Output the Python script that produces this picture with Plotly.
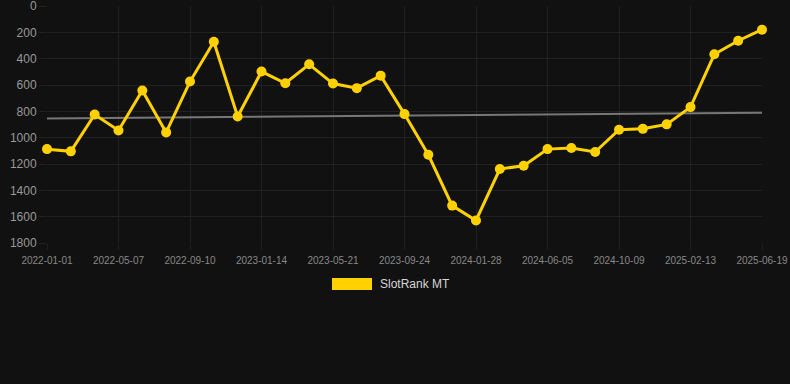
import plotly.graph_objects as go

dates = [
    "2022-01-01", "2022-02-12", "2022-03-26", "2022-05-07", "2022-06-18", "2022-07-30",
    "2022-09-10", "2022-10-22", "2022-12-03", "2023-01-14", "2023-02-25", "2023-04-08",
    "2023-05-21", "2023-07-02", "2023-08-13", "2023-09-24", "2023-11-05", "2023-12-17",
    "2024-01-28", "2024-03-10", "2024-04-21", "2024-06-05", "2024-07-17", "2024-08-28",
    "2024-10-09", "2024-11-20", "2025-01-01", "2025-02-13", "2025-03-27", "2025-05-08",
    "2025-06-19",
]
rank = [
    1087, 1104, 824, 945, 642, 960, 574, 271, 839, 498, 587, 443, 589, 624, 529,
    821, 1130, 1516, 1629, 1238, 1213, 1087, 1079, 1109, 940, 933, 899, 768, 367, 264, 180,
]
trend_x = ["2022-01-01", "2025-06-19"]
trend_y = [854, 811]
tick_labels = [
    "2022-01-01", "2022-05-07", "2022-09-10", "2023-01-14", "2023-05-21", "2023-09-24",
    "2024-01-28", "2024-06-05", "2024-10-09", "2025-02-13", "2025-06-19",
]
y_ticks = [0, 200, 400, 600, 800, 1000, 1200, 1400, 1600, 1800]
series_name = "SlotRank MT"

GOLD = "#FFD100"
GRID = "#212121"
FONT = "Liberation Sans, Arial, sans-serif"

fig = go.Figure()
fig.add_trace(go.Scatter(
    x=trend_x, y=trend_y, mode="lines",
    line=dict(color="#777777", width=2),
    hoverinfo="skip", showlegend=False, cliponaxis=False,
))
fig.add_trace(go.Scatter(
    x=dates, y=rank, mode="lines+markers", name=series_name,
    line=dict(color=GOLD, width=3),
    marker=dict(color=GOLD, size=10),
    showlegend=False, cliponaxis=False,
))

fig.update_layout(
    width=790, height=384,
    paper_bgcolor="#111111", plot_bgcolor="#111111",
    margin=dict(l=47, r=28, t=6, b=141),
    font=dict(family=FONT, color="#888888"),
    showlegend=False,
    xaxis=dict(
        type="category", categoryorder="array", categoryarray=dates,
        range=[0, len(dates) - 1],
        tickmode="array", tickvals=tick_labels, ticktext=tick_labels,
        tickfont=dict(size=10, color="#888888"),
        showgrid=True, gridcolor=GRID, gridwidth=1,
        ticks="outside", ticklen=6, tickcolor=GRID,
        ticklabelstandoff=2,
        showline=False, zeroline=False,
        automargin=False, ticklabeloverflow="allow",
    ),
    yaxis=dict(
        range=[1800, 0],
        tickmode="array", tickvals=y_ticks,
        tickfont=dict(size=12, color="#999999"),
        showgrid=True, gridcolor=GRID, gridwidth=1,
        ticks="outside", ticklen=7, tickcolor=GRID,
        showline=False, zeroline=False,
        automargin=False, ticklabeloverflow="allow",
    ),
    shapes=[dict(
        type="rect", xref="paper", yref="paper",
        x0=(332 - 47) / 715, x1=(372 - 47) / 715,
        y0=(384 - 141 - 290) / 237, y1=(384 - 141 - 278) / 237,
        fillcolor=GOLD, line=dict(width=0),
    )],
    annotations=[dict(
        text=series_name, xref="paper", yref="paper",
        x=(378 - 47) / 715, y=(384 - 141 - 284) / 237,
        xanchor="left", yanchor="middle", showarrow=False,
        font=dict(size=12, color="#d6d6d6", family=FONT),
    )],
)

fig.write_html("out.html", config={"displayModeBar": False})

with open("out.html", "r", encoding="utf-8") as f:
    html = f.read()
html = html.replace(
    "<head>",
    "<head><style>html,body{margin:0;padding:0;background:#111111;overflow:hidden;}</style>",
    1,
)
with open("out.html", "w", encoding="utf-8") as f:
    f.write(html)
